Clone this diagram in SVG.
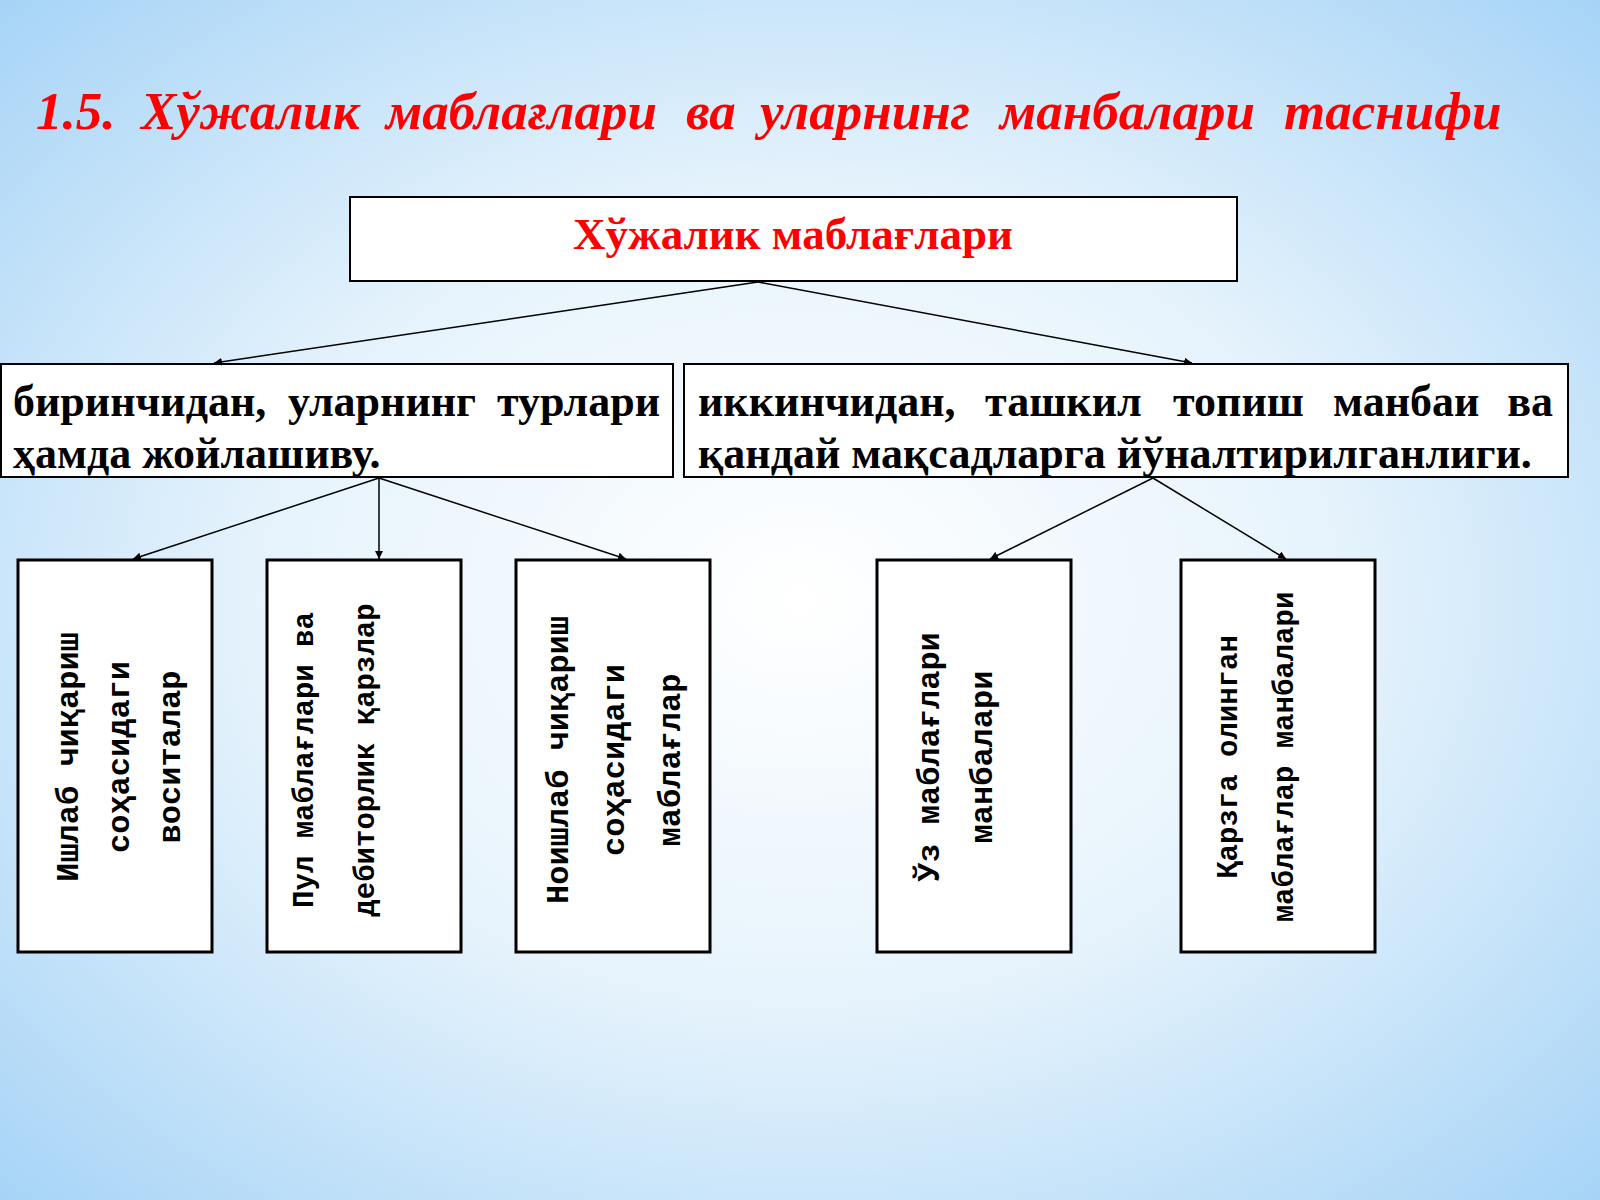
<svg xmlns="http://www.w3.org/2000/svg" width="1600" height="1200" viewBox="0 0 1600 1200">
<defs>
<radialGradient id="bg" cx="0.5" cy="0.5" r="0.75">
<stop offset="0" stop-color="#ffffff"/>
<stop offset="0.45" stop-color="#e6f3fc"/>
<stop offset="1" stop-color="#9fd0f6"/>
</radialGradient>
<marker id="ar" viewBox="0 0 10 10" refX="10" refY="5" markerWidth="8" markerHeight="8" orient="auto" markerUnits="userSpaceOnUse">
<path d="M0,0 L10,5 L0,10 z" fill="#000"/>
</marker>
<style>
.box{fill:#fff;stroke:#000;stroke-width:2}
.vbox{fill:#fff;stroke:#000;stroke-width:3}
.t{font-family:"Liberation Serif",serif;font-weight:bold;font-size:44px;fill:#000}
.ti{font-family:"Liberation Serif",serif;font-weight:bold;font-style:italic;font-size:53px;fill:#ff0000}
.v{font-family:"Liberation Mono",monospace;font-weight:bold;font-size:32px;fill:#000;text-anchor:middle}
.vs{font-size:29px}
.c line{stroke:#000;stroke-width:1.5;marker-end:url(#ar)}
</style>
</defs>
<rect width="1600" height="1200" fill="url(#bg)"/>
<g id="title">
<text class="ti" x="36" y="129">1.5.</text>
<text class="ti" x="141" y="129">Хўжалик</text>
<text class="ti" x="386" y="129">маблағлари</text>
<text class="ti" x="686" y="129">ва</text>
<text class="ti" x="760" y="129">уларнинг</text>
<text class="ti" x="1000" y="129">манбалари</text>
<text class="ti" x="1284" y="129">таснифи</text>
</g>
<g id="top"><rect class="box" x="350" y="197" width="887" height="84"/>
<text x="793" y="249" font-family="Liberation Serif,serif" font-weight="bold" font-size="45" fill="#ff0000" text-anchor="middle">Хўжалик маблағлари</text></g>
<g id="left"><rect class="box" x="1" y="364" width="672" height="113"/>
<text class="t" x="13" y="416">биринчидан,</text>
<text class="t" x="288" y="416">уларнинг</text>
<text class="t" x="660" y="416" text-anchor="end">турлари</text>
<text class="t" x="13" y="468">ҳамда жойлашиву.</text></g>
<g id="right"><rect class="box" x="684" y="364" width="884" height="113"/>
<text class="t" x="698" y="416">иккинчидан,</text>
<text class="t" x="985" y="416">ташкил</text>
<text class="t" x="1173" y="416">топиш</text>
<text class="t" x="1333" y="416">манбаи</text>
<text class="t" x="1553" y="416" text-anchor="end">ва</text>
<text class="t" x="698" y="468">қандай мақсадларга йўналтирилганлиги.</text></g>
<g class="c" id="connectors">
<line x1="758" y1="282" x2="214" y2="363"/>
<line x1="758" y1="282" x2="1192" y2="363"/>
<line x1="379" y1="478" x2="133" y2="559"/>
<line x1="379" y1="478" x2="379" y2="559"/>
<line x1="379" y1="478" x2="626" y2="559"/>
<line x1="1153" y1="478" x2="990" y2="559"/>
<line x1="1153" y1="478" x2="1286" y2="559"/>
</g>
<g id="b1"><rect class="vbox" x="18" y="560" width="194" height="392"/>
<text class="v" transform="translate(78,757) rotate(-90)">Ишлаб чиқариш</text>
<text class="v" transform="translate(129,757) rotate(-90)">соҳасидаги</text>
<text class="v" transform="translate(180,757) rotate(-90)">воситалар</text></g>
<g id="b2"><rect class="vbox" x="267" y="560" width="194" height="392"/>
<text class="v vs" transform="translate(313,760) rotate(-90)">Пул маблағлари ва</text>
<text class="v vs" transform="translate(374,760) rotate(-90)">дебиторлик қарзлар</text></g>
<g id="b3"><rect class="vbox" x="516" y="560" width="194" height="392"/>
<text class="v" transform="translate(568,760) rotate(-90)">Ноишлаб чиқариш</text>
<text class="v" transform="translate(624,760) rotate(-90)">соҳасидаги</text>
<text class="v" transform="translate(680,760) rotate(-90)">маблағлар</text></g>
<g id="b4"><rect class="vbox" x="877" y="560" width="194" height="392"/>
<text class="v" transform="translate(939,757) rotate(-90)">Ўз маблағлари</text>
<text class="v" transform="translate(992,757) rotate(-90)">манбалари</text></g>
<g id="b5"><rect class="vbox" x="1181" y="560" width="194" height="392"/>
<text class="v vs" transform="translate(1237,757) rotate(-90)">Қарзга олинган</text>
<text class="v vs" transform="translate(1293,757) rotate(-90)">маблағлар манбалари</text></g>
</svg>
